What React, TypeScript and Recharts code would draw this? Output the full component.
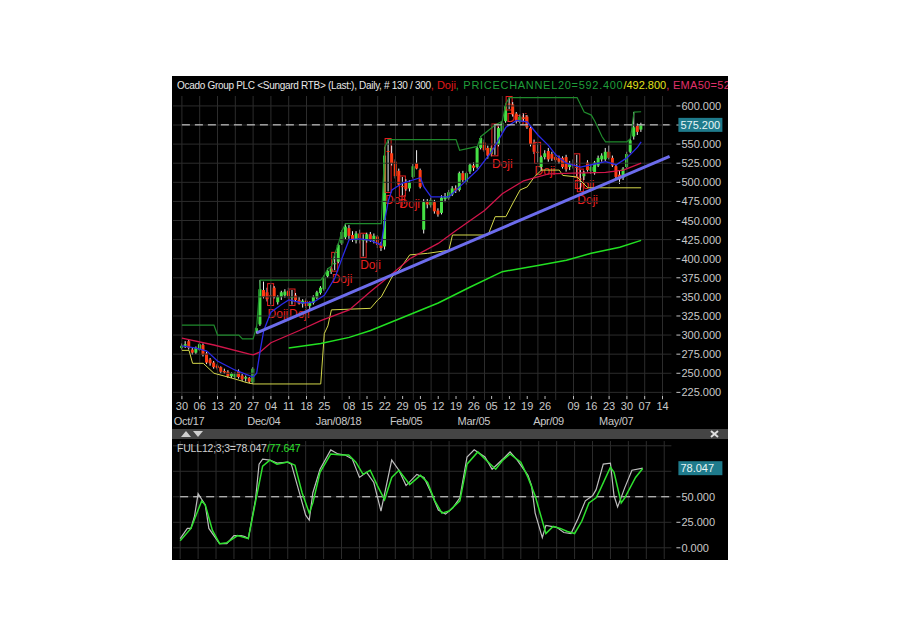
import { ComposedChart, Bar, Line, XAxis, YAxis, ReferenceLine } from 'recharts';

const FONT = '"Liberation Sans", Arial, sans-serif';

// daily candles, trading days 30 Oct 2017 .. 04 May 2018 (index 0..129)
const opens = [
  283, 286, 292, 281, 277, 281, 287, 276, 268, 264,
  260, 258, 253, 252, 246, 245, 253, 247, 243, 244,
  238, 305, 314, 359, 356, 352, 362, 343, 350, 352,
  358, 350, 352, 346, 341, 345, 338, 342, 349, 355,
  360, 377, 383, 394, 396, 420, 428, 440, 431, 424,
  433, 425, 424, 432, 424, 429, 420, 416, 541, 538,
  527, 515, 495, 500, 492, 507, 525, 516, 438, 474,
  470, 474, 463, 460, 478, 479, 484, 492, 490, 512,
  500, 514, 522, 520, 545, 552, 545, 537, 550, 549,
  567, 580, 603, 602, 590, 579, 585, 586, 571, 552,
  540, 520, 533, 541, 537, 533, 532, 532, 533, 520,
  525, 520, 505, 508, 526, 515, 512, 522, 530, 530,
  540, 532, 521, 510, 506, 520, 540, 560, 574, 569,
];
const highs = [
  289, 292, 294, 283, 285, 290, 289, 278, 270, 266,
  262, 259, 256, 254, 251, 251, 255, 249, 247, 245,
  258, 311, 372, 370, 362, 366, 364, 352, 358, 360,
  362, 359, 355, 350, 347, 348, 344, 352, 358, 364,
  378, 387, 390, 407, 420, 437, 446, 444, 436, 436,
  438, 432, 434, 435, 433, 431, 422, 546, 556, 548,
  530, 518, 507, 504, 503, 524, 542, 518, 478, 478,
  480, 477, 466, 483, 486, 490, 495, 496, 514, 515,
  514, 525, 526, 547, 560, 556, 548, 548, 575, 573,
  580, 603, 611, 605, 592, 589, 590, 588, 574, 556,
  551, 535, 542, 545, 540, 538, 535, 534, 536, 528,
  530, 536, 516, 515, 529, 523, 528, 535, 538, 545,
  548, 535, 524, 515, 520, 540, 557, 592, 577, 578,
];
const lows = [
  281, 283, 281, 274, 275, 279, 272, 262, 260, 256,
  255, 250, 249, 244, 244, 243, 243, 240, 239, 237,
  236, 302, 312, 348, 344, 340, 348, 340, 346, 349,
  348, 340, 344, 340, 336, 335, 333, 340, 347, 353,
  358, 375, 380, 385, 394, 418, 425, 426, 422, 420,
  420, 403, 421, 422, 420, 414, 410, 412, 488, 522,
  505, 495, 483, 489, 488, 505, 517, 492, 433, 466,
  467, 459, 455, 458, 474, 477, 482, 486, 488, 500,
  497, 511, 515, 518, 543, 540, 531, 534, 536, 547,
  565, 578, 596, 586, 577, 577, 580, 570, 547, 537,
  526, 515, 530, 527, 528, 526, 524, 518, 514, 516,
  518, 508, 489, 503, 514, 511, 510, 520, 527, 528,
  530, 520, 505, 498, 503, 518, 538, 556, 562, 566,
];
const closes = [
  286, 288, 283, 277, 283, 288, 274, 264, 263, 258,
  257, 252, 251, 246, 250, 249, 245, 242, 245, 239,
  256, 309, 360, 350, 347, 351, 350, 350, 356, 357,
  351, 350, 346, 341, 345, 338, 342, 350, 356, 362,
  376, 384, 387, 394, 418, 435, 442, 430, 425, 433,
  427, 425, 432, 424, 430, 418, 414, 535, 540, 525,
  508, 497, 494, 491, 500, 521, 518, 494, 474, 471,
  477, 462, 458, 480, 482, 487, 492, 489, 512, 503,
  512, 523, 519, 545, 558, 542, 535, 545, 549, 571,
  578, 600, 602, 589, 580, 586, 583, 572, 550, 540,
  539, 533, 538, 530, 531, 529, 527, 520, 517, 524,
  522, 519, 504, 512, 516, 520, 526, 532, 535, 540,
  532, 522, 507, 504, 518, 537, 555, 572, 566, 575.2,
];
const dojiDays = [25, 31, 43, 51, 58, 62, 88, 92, 100, 111, 112];

// overlays as [day index, value]
const emaFast: [number, number][] = [
  [0, 286], [4, 283], [7, 279], [10, 266], [15, 254], [20, 245], [21, 250], [22, 280],
  [23, 306], [25, 330], [28, 340], [30, 346], [34, 342], [37, 343], [40, 352], [43, 375],
  [45, 401], [47, 425], [50, 426], [53, 424], [56, 418], [57, 451], [58, 476], [59, 490],
  [62, 499], [67, 506], [68, 494], [70, 481], [75, 481], [78, 494], [83, 516], [87, 540],
  [91, 572], [94, 581], [97, 579], [100, 562], [103, 548], [105, 536], [108, 525],
  [112, 520], [115, 523], [119, 527], [122, 523], [125, 532], [128, 546], [129, 553],
];
const ema50: [number, number][] = [
  [0, 296], [9, 287], [19, 275], [20, 274], [22, 278], [25, 290], [33, 306], [39, 319],
  [47, 333], [53, 357], [58, 376], [64, 400], [72, 420], [77, 437], [85, 463], [90, 485],
  [96, 502], [103, 511], [110, 512], [119, 513], [124, 516], [129, 525],
];
const emaSlow: [number, number][] = [
  [30, 283], [39, 289], [47, 297], [53, 306], [62, 323], [72, 342], [81, 363], [90, 383],
  [100, 391], [108, 398], [115, 407], [123, 415], [129, 424],
];
const channelHigh: [number, number][] = [
  [0, 313], [9, 313], [10, 300], [16, 300], [17, 295], [20, 295], [21, 311], [22, 372],
  [39, 372], [40, 378], [41, 387], [42, 390], [43, 407], [44, 420], [45, 437], [46, 446],
  [56, 446], [57, 546], [58, 556], [77, 556], [78, 542], [83, 547], [84, 560], [88, 575],
  [90, 580], [91, 603], [92, 611], [111, 611], [113, 592], [115, 588], [116, 580],
  [118, 560], [119, 553], [125, 553], [126, 557], [127, 592], [129, 592.4],
];
const channelLow: [number, number][] = [
  [0, 280], [2, 280], [3, 263], [6, 263], [9, 250], [13, 245], [16, 241], [18, 238],
  [20, 236], [39, 236], [40, 302], [41, 312], [42, 333], [53, 335], [55, 346], [56, 350],
  [59, 376], [61, 385], [64, 405], [69, 407], [75, 411], [76, 431], [86, 431], [88, 455],
  [91, 455], [93, 473], [95, 490], [97, 494], [99, 507], [101, 516], [106, 516],
  [107, 509], [111, 507], [114, 492.8], [129, 492.8],
];
const trendLine: [number, number][] = [[21, 303], [137, 534]];
const lastPrice = 575.2;

const stochK: [number, number][] = [
  [0, 9], [2, 19], [3, 19], [4, 31], [5, 53], [7, 42], [8, 19], [10, 9], [11, 4], [13, 4],
  [15, 12], [17, 12], [18, 11], [19, 9], [21, 47], [22, 82], [23, 87], [25, 86], [27, 83],
  [30, 84], [31, 82], [33, 57], [35, 32], [36, 27], [37, 54], [39, 77], [42, 96], [44, 92],
  [46, 91], [48, 87], [50, 69], [52, 74], [54, 64], [56, 36], [59, 86], [61, 76], [63, 61],
  [66, 72], [68, 69], [70, 54], [72, 37], [74, 33], [76, 39], [78, 49], [80, 89], [82, 96],
  [85, 89], [87, 77], [90, 87], [92, 94], [94, 86], [97, 71], [98, 61], [99, 34], [101, 10],
  [102, 22], [105, 20], [107, 15], [109, 14], [111, 29], [113, 46], [115, 51], [116, 57],
  [118, 82], [120, 83], [121, 51], [122, 40], [124, 59], [126, 76], [129, 78.047],
];
const stochD: [number, number][] = [
  [0, 7], [3, 19], [6, 46], [7, 42], [9, 17], [11, 4], [13, 5], [16, 12], [17, 11], [19, 9],
  [21, 45], [23, 80], [25, 86], [27, 82], [30, 84], [32, 81], [34, 54], [36, 34], [37, 44],
  [39, 74], [42, 92], [45, 91], [47, 91], [49, 84], [51, 72], [53, 76], [55, 61], [57, 47],
  [59, 69], [61, 76], [64, 62], [67, 71], [69, 64], [71, 46], [73, 34], [75, 36], [78, 46],
  [80, 82], [83, 94], [85, 87], [88, 77], [90, 86], [92, 92], [95, 84], [97, 69], [99, 51],
  [102, 14], [104, 21], [106, 19], [108, 16], [110, 14], [112, 26], [114, 44], [116, 49],
  [117, 56], [120, 79], [121, 74], [123, 44], [124, 49], [127, 69], [129, 77.647],
];
const lastK = 78.047;
const lastD = 77.647;

const dayTicks: [number, string][] = [
  [0, '30'], [5, '06'], [10, '13'], [15, '20'], [20, '27'], [25, '04'], [30, '11'], [35, '18'],
  [40, '25'], [47, '08'], [52, '15'], [57, '22'], [62, '29'], [67, '05'], [72, '12'], [77, '19'],
  [82, '26'], [87, '05'], [92, '12'], [97, '19'], [102, '26'], [110, '09'], [115, '16'],
  [120, '23'], [125, '30'], [130, '07'], [135, '14'],
];
const monthTicks: [number, string][] = [
  [2, 'Oct/17'], [23, 'Dec/04'], [44, 'Jan/08/18'], [63, 'Feb/05'], [82, 'Mar/05'],
  [103, 'Apr/09'], [122, 'May/07'],
];
const gridDays = [0, 5, 10, 15, 20, 25, 30, 35, 40, 45, 50, 55, 60, 65, 70, 75, 80, 85, 90, 95, 100, 105, 110, 115, 120, 125, 130, 135];
const priceTicks = [225, 250, 275, 300, 325, 350, 375, 400, 425, 450, 475, 500, 525, 550, 575, 600];
const stochTicks = [0, 25, 50, 75, 100];

const FIRST = -2;
const LAST = 137;

const kMap = new Map(stochK);
const dMap = new Map(stochD);
const fastMap = new Map(emaFast);
const midMap = new Map(ema50);
const slowMap = new Map(emaSlow);
const hiMap = new Map(channelHigh);
const loMap = new Map(channelLow);
const trendMap = new Map(trendLine);
const dayMap = new Map(dayTicks);
const monthMap = new Map(monthTicks);

const rows: any[] = [];
for (let i = FIRST; i <= LAST; i++) {
  const has = i >= 0 && i < closes.length;
  rows.push({
    i,
    range: has ? [lows[i], highs[i]] : null,
    o: has ? opens[i] : null,
    h: has ? highs[i] : null,
    l: has ? lows[i] : null,
    c: has ? closes[i] : null,
    doji: dojiDays.includes(i),
    fast: fastMap.get(i) ?? null,
    mid: midMap.get(i) ?? null,
    slow: slowMap.get(i) ?? null,
    hi: hiMap.get(i) ?? null,
    lo: loMap.get(i) ?? null,
    trend: trendMap.get(i) ?? null,
    last: i === 0 || i === LAST ? lastPrice : null,
    k: kMap.get(i) ?? null,
    d: dMap.get(i) ?? null,
    mid50: i === 0 || i === LAST ? 50 : null,
  });
}

const GRID = '#2c2c2c';
const AXIS_TEXT = '#c8c8c8';
const UP = '#45e045';
const DOWN = '#ff3c14';

const Candle = (props: any) => {
  const { x, y, width, height, payload } = props;
  if (payload == null || payload.h == null) return null;
  const { o, h, l, c, doji } = payload;
  const ppu = h - l > 0 ? height / (h - l) : 0;
  const py = (v: number) => y + (h - v) * ppu;
  const cx = x + width / 2;
  const top = py(Math.max(o, c));
  const bot = py(Math.min(o, c));
  return (
    <g>
      <line x1={cx} x2={cx} y1={y} y2={y + height} stroke="#f0f0f0" strokeWidth={1} />
      <rect x={cx - 1.5} y={top} width={3} height={Math.max(1, bot - top)} fill={c >= o ? UP : DOWN} />
      {doji && (
        <rect x={cx - 3} y={y - 1} width={6} height={height + 2} fill="none" stroke="#e82020" strokeWidth={1} />
      )}
      {doji && (
        <text x={cx - 3} y={y + height + 13} fill="#e82020" fontSize={12} fontFamily={FONT}>
          Doji
        </text>
      )}
    </g>
  );
};

const XTick = (props: any) => {
  const { x, y, payload } = props;
  const d = dayMap.get(payload.value);
  const m = monthMap.get(payload.value);
  if (!d && !m) return <g />;
  return (
    <g>
      {d && <line x1={x} x2={x} y1={y - 4} y2={y - 1} stroke="#bbbbbb" />}
      {d && (
        <text x={x} y={y + 10} textAnchor="middle" fill={AXIS_TEXT} fontSize={11} fontFamily={FONT}>
          {d}
        </text>
      )}
      {m && (
        <text x={x} y={y + 25} textAnchor="middle" fill={AXIS_TEXT} fontSize={11} fontFamily={FONT} letterSpacing={-0.3}>
          {m}
        </text>
      )}
    </g>
  );
};

const makeYTick = (tagValue: number) => (props: any) => {
  const { x, y, payload } = props;
  const v = payload.value;
  if (v === tagValue) {
    return (
      <g>
        <rect x={x + 7} y={y - 7} width={44} height={14} fill="#1f7b8c" />
        <text x={x + 9} y={y + 4} fill="#e8f6f6" fontSize={11} fontFamily={FONT}>
          {v.toFixed(3)}
        </text>
      </g>
    );
  }
  return (
    <g>
      <line x1={x + 5} x2={x + 9} y1={y} y2={y} stroke={AXIS_TEXT} />
      <text x={x + 10} y={y + 4} fill={AXIS_TEXT} fontSize={11} fontFamily={FONT}>
        {v.toFixed(3)}
      </text>
    </g>
  );
};

const PriceTick = makeYTick(lastPrice);
const StochTick = makeYTick(lastK);

export default function App() {
  return (
    <div
      style={{
        position: 'absolute',
        left: 172,
        top: 76,
        width: 556,
        height: 484,
        background: '#000',
        overflow: 'hidden',
        fontFamily: FONT,
      }}
    >
      <ComposedChart
        width={556}
        height={354}
        data={rows}
        margin={{ top: 20, right: 0, bottom: 0, left: 1 }}
        style={{ position: 'absolute', left: 0, top: 0 }}
      >
        <XAxis
          dataKey="i"
          type="category"
          interval={0}
          height={30}
          axisLine={false}
          tickLine={false}
          tickSize={0}
          tickMargin={0}
          tick={<XTick />}
        />
        <YAxis
          orientation="right"
          width={56.6}
          domain={[215, 613]}
          allowDataOverflow
          ticks={[...priceTicks, lastPrice]}
          interval={0}
          axisLine={false}
          tickLine={false}
          tickSize={0}
          tickMargin={0}
          tick={<PriceTick />}
        />
        {priceTicks.map((v) => (
          <ReferenceLine key={'h' + v} y={v} stroke={GRID} strokeWidth={1} />
        ))}
        {gridDays.map((d) => (
          <ReferenceLine key={'v' + d} x={d} stroke={GRID} strokeWidth={1} />
        ))}
        <Line dataKey="hi" stroke="#1f8a2c" strokeWidth={1.2} dot={false} connectNulls isAnimationActive={false} />
        <Line dataKey="lo" stroke="#d4d84a" strokeWidth={1} dot={false} connectNulls isAnimationActive={false} />
        <Line dataKey="slow" stroke="#22e022" strokeWidth={1.5} dot={false} connectNulls isAnimationActive={false} />
        <Line dataKey="mid" stroke="#d0154a" strokeWidth={1.3} dot={false} connectNulls isAnimationActive={false} />
        <Bar dataKey="range" barSize={3} shape={<Candle />} isAnimationActive={false} />
        <Line dataKey="fast" stroke="#2a2ae6" strokeWidth={1.3} dot={false} connectNulls isAnimationActive={false} />
        <Line dataKey="trend" stroke="#6c6cec" strokeWidth={3} dot={false} connectNulls isAnimationActive={false} />
        <Line
          dataKey="last"
          stroke="#e6e6e6"
          strokeWidth={1}
          strokeDasharray="8 5"
          dot={false}
          connectNulls
          isAnimationActive={false}
        />
      </ComposedChart>

      <div
        style={{
          position: 'absolute',
          left: 5,
          top: 3,
          fontSize: 10,
          letterSpacing: -0.3,
          whiteSpace: 'nowrap',
          color: '#e8e8e8',
        }}
      >
        Ocado Group PLC &lt;Sungard RTB&gt; (Last:), Daily, # 130 / 300
        <span style={{ color: '#e01818', fontSize: 11, letterSpacing: 0 }}>, Doji</span>
        <span style={{ color: '#1f9e3a', fontSize: 11, letterSpacing: 0.7 }}>, PRICECHANNEL20=592.400</span>
        <span style={{ color: '#e2e21a', fontSize: 11, letterSpacing: 0 }}>/492.800</span>
        <span style={{ color: '#e0306a', fontSize: 11, letterSpacing: 0.3 }}>, EMA50=525.100</span>
      </div>

      <div
        style={{
          position: 'absolute',
          left: 0,
          top: 353,
          width: 556,
          height: 10,
          background: '#444444',
        }}
      >
        <svg width={556} height={10} style={{ display: 'block' }}>
          <polygon points="9,8 14,2 19,8" fill="#cfcfcf" />
          <polygon points="21,2 31,2 26,8" fill="#cfcfcf" />
          <line x1={539} y1={2} x2={546} y2={8} stroke="#e0e0e0" strokeWidth={2} />
          <line x1={546} y1={2} x2={539} y2={8} stroke="#e0e0e0" strokeWidth={2} />
        </svg>
      </div>

      <ComposedChart
        width={556}
        height={121}
        data={rows}
        margin={{ top: 2, right: 0, bottom: 1, left: 1 }}
        style={{ position: 'absolute', left: 0, top: 363 }}
      >
        <XAxis dataKey="i" type="category" hide />
        <YAxis
          orientation="right"
          width={56.6}
          domain={[-11, 104.7]}
          allowDataOverflow
          ticks={[0, 25, 50, lastK]}
          interval={0}
          axisLine={false}
          tickLine={false}
          tickSize={0}
          tickMargin={0}
          tick={<StochTick />}
        />
        {stochTicks.map((v) => (
          <ReferenceLine key={'sh' + v} y={v} stroke={GRID} strokeWidth={1} />
        ))}
        {gridDays.map((d) => (
          <ReferenceLine key={'sv' + d} x={d} stroke={GRID} strokeWidth={1} />
        ))}
        <Line
          dataKey="mid50"
          stroke="#e6e6e6"
          strokeWidth={1}
          strokeDasharray="8 5"
          dot={false}
          connectNulls
          isAnimationActive={false}
        />
        <Line dataKey="k" stroke="#bdbdbd" strokeWidth={1.2} dot={false} connectNulls isAnimationActive={false} />
        <Line dataKey="d" stroke="#2ee02e" strokeWidth={1.5} dot={false} connectNulls isAnimationActive={false} />
      </ComposedChart>

      <div
        style={{
          position: 'absolute',
          left: 5,
          top: 366,
          fontSize: 10.5,
          letterSpacing: -0.2,
          whiteSpace: 'nowrap',
          color: '#d0d0d0',
        }}
      >
        FULL12;3;3={lastK.toFixed(3)}
        <span style={{ color: '#2ee02e' }}>/{lastD.toFixed(3)}</span>
      </div>
    </div>
  );
}
